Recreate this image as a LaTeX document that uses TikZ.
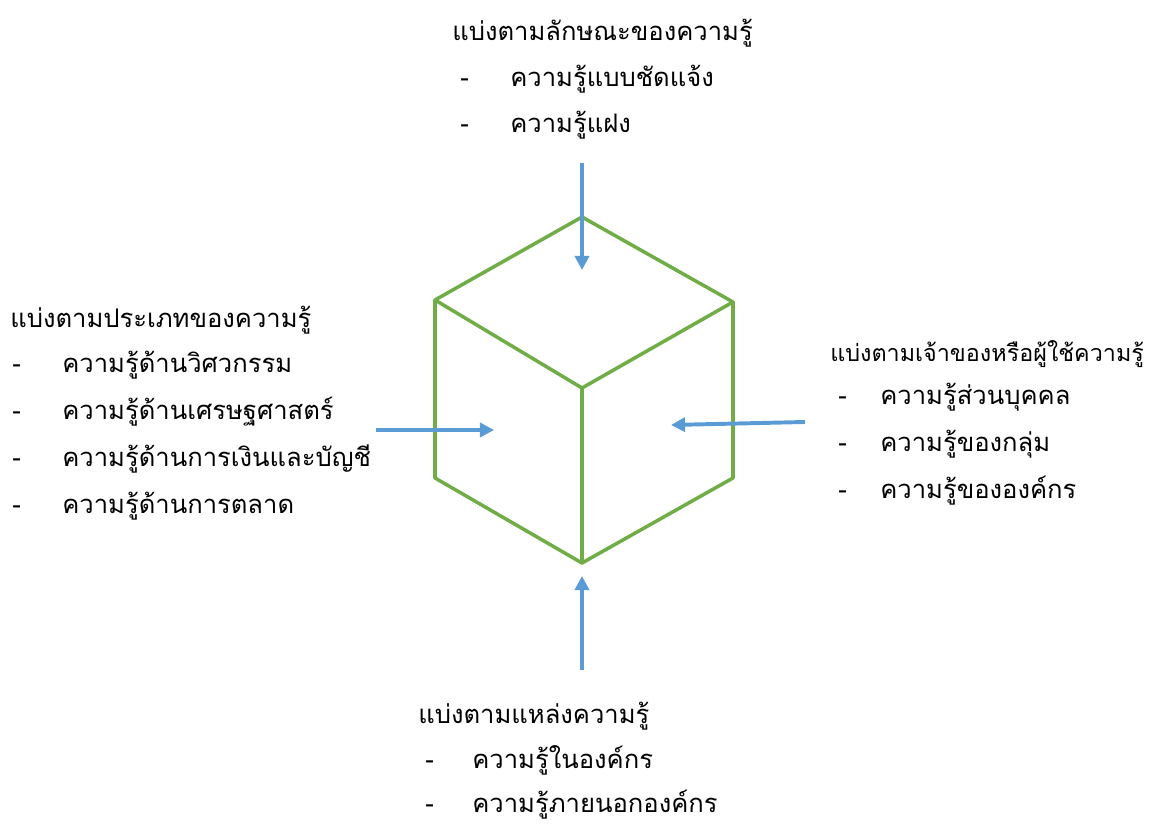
\documentclass[tikz,border=0pt]{standalone}
\usepackage{fontspec}
\newfontfamily\thaifont[Script=Thai]{Loma}
\usepackage{xcolor}
\usetikzlibrary{positioning,arrows.meta}

\definecolor{cubegreen}{RGB}{112,173,71}
\definecolor{arrowblue}{RGB}{91,155,213}

\tikzset{
    label/.style={anchor=base west, inner sep=0pt, font=\thaifont\fontsize{18.2}{22}\selectfont},
    cubeline/.style={cubegreen, line width=2.5pt, line join=round},
    pointer/.style={arrowblue, line width=2.8pt, -{Triangle[length=10pt,width=10pt]}}
}

\begin{document}
\begin{tikzpicture}[x=0.025cm, y=-0.025cm]
    \useasboundingbox (0,0) rectangle (1160,826);

    % cube corners
    \coordinate (t) at (582,217);
    \coordinate (ul) at (435,300);
    \coordinate (ur) at (733,302);
    \coordinate (c) at (582,388);
    \coordinate (ll) at (435,478);
    \coordinate (lr) at (733,478);
    \coordinate (b) at (582,563);

    \draw[cubeline] (t) -- (ur) -- (lr) -- (b) -- (ll) -- (ul) -- cycle;
    \draw[cubeline] (ul) -- (c) -- (ur);
    \draw[cubeline] (c) -- (b);

    % top group
    \node[label] (toptitle) at (452,41) {แบ่งตามลักษณะของความรู้};
    \foreach \txt [count=\i] in {ความรู้แบบชัดแจ้ง, ความรู้แฝง} {
        \node[label] (topdash\i) at (460,41+\i*46) {-};
        \node[label] (top\i) at (510,41+\i*46) {\txt};
    }

    % left group
    \node[label] (lefttitle) at (10,328) {แบ่งตามประเภทของความรู้};
    \foreach \txt [count=\i] in {ความรู้ด้านวิศวกรรม, ความรู้ด้านเศรษฐศาสตร์, ความรู้ด้านการเงินและบัญชี, ความรู้ด้านการตลาด} {
        \node[label] (leftdash\i) at (12,326+\i*47) {-};
        \node[label] (left\i) at (62,326+\i*47) {\txt};
    }

    % right group (title set a little smaller so it fits)
    \node[label, font=\thaifont\fontsize{16.6}{20}\selectfont] (righttitle) at (830,362) {แบ่งตามเจ้าของหรือผู้ใช้ความรู้};
    \foreach \txt [count=\i] in {ความรู้ส่วนบุคคล, ความรู้ของกลุ่ม, ความรู้ขององค์กร} {
        \node[label] (rightdash\i) at (838,358+\i*47) {-};
        \node[label] (right\i) at (880,358+\i*47) {\txt};
    }

    % bottom group
    \node[label] (bottomtitle) at (418,724) {แบ่งตามแหล่งความรู้};
    \foreach \txt [count=\i] in {ความรู้ในองค์กร, ความรู้ภายนอกองค์กร} {
        \node[label] (bottomdash\i) at (425,724+\i*44) {-};
        \node[label] (bottom\i) at (472,724+\i*44) {\txt};
    }

    % arrows into the cube
    \coordinate (topfrom) at (582,163);
    \coordinate (topto) at (582,270);
    \coordinate (leftfrom) at (376,430);
    \coordinate (leftto) at (494,430);
    \coordinate (rightfrom) at (805,422);
    \coordinate (rightto) at (671,425);
    \coordinate (bottomfrom) at (582,670);
    \coordinate (bottomto) at (582,576);

    \draw[pointer] (topfrom) -- (topto);
    \draw[pointer] (leftfrom) -- (leftto);
    \draw[pointer] (rightfrom) -- (rightto);
    \draw[pointer] (bottomfrom) -- (bottomto);
\end{tikzpicture}
\end{document}
